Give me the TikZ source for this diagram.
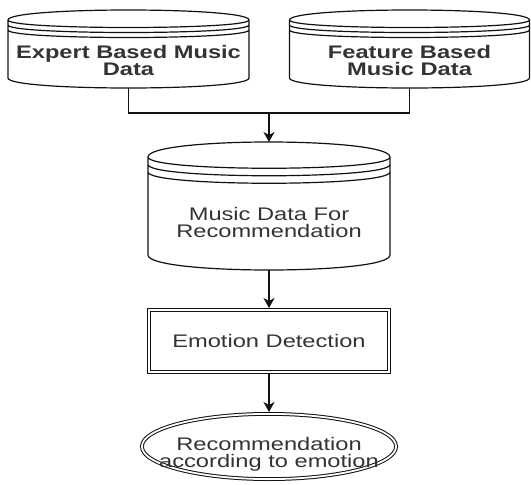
\documentclass[tikz,border=0pt]{standalone}
\usepackage{fontspec}
\newfontfamily\diagfont[FakeStretch=1.3]{Liberation Sans}
\usetikzlibrary{arrows.meta,shapes.geometric,calc}

\definecolor{inkline}{HTML}{111111}
\definecolor{inktext}{HTML}{333333}

\tikzset{
  outline/.style={draw=inkline, line width=1.2pt, line join=round},
  labeltext/.style={text=inktext, align=center, inner sep=0pt,
    font=\diagfont\fontsize{18.2}{17}\selectfont},
  storebody/.style={labeltext, draw=none, outer sep=0pt,
    minimum width=#1},
  dblline/.style={draw=inkline, line width=1pt, double=white,
    double distance=1.8pt, outer sep=1.9pt},
  dblbox/.style={dblline, rectangle, inner sep=0pt, labeltext},
  dblellipse/.style={dblline, ellipse, inner sep=0pt},
  conn/.style={draw=inkline, line width=1.2pt},
  flow/.style={conn, -{Stealth[length=10pt, width=11pt, inset=3pt]}},
}

% Data store outline around a body node: #1 = body node, #2 = cap depth (pt).
% The caps sit above the body; three stacked rims under the lid.
\newcommand\datastoreoutline[2]{%
  \draw[outline] let \p1=(#1.north west), \p2=(#1.south east), \n1={#2} in
    (\x1,\y1+1.25*\n1)
      .. controls (\x1,\y1+2.5833*\n1) and (\x2,\y1+2.5833*\n1) .. (\x2,\y1+1.25*\n1)
      -- (\x2,\y2+\n1)
      .. controls (\x2,\y2-\n1/3) and (\x1,\y2-\n1/3) .. (\x1,\y2+\n1)
      -- cycle
    (\x1,\y1+1.25*\n1)
      .. controls (\x1,\y1+0.25*\n1) and (\x2,\y1+0.25*\n1) .. (\x2,\y1+1.25*\n1)
    (\x1,\y1+0.75*\n1)
      .. controls (\x1,\y1-0.25*\n1) and (\x2,\y1-0.25*\n1) .. (\x2,\y1+0.75*\n1)
    (\x1,\y1+0.25*\n1)
      .. controls (\x1,\y1-0.75*\n1) and (\x2,\y1-0.75*\n1) .. (\x2,\y1+0.25*\n1);
}

\begin{document}
\begin{tikzpicture}[x=1pt, y=1pt]
  \useasboundingbox (0,0) rectangle (531,-485);

  % source stores
  \node[storebody=241, minimum height=55.5] (expert) at (128.5,-60.25)
    {\bfseries Expert Based Music\\\bfseries Data};
  \datastoreoutline{expert}{10}

  \node[storebody=240, minimum height=55.5] (feature) at (409.5,-60.25)
    {\bfseries Feature Based\\\bfseries Music Data};
  \datastoreoutline{feature}{10}

  % merged store
  \node[storebody=242, minimum height=94.25] (music) at (269,-222.875)
    {Music Data For\\Recommendation};
  \datastoreoutline{music}{15}
  \coordinate (musictop) at ([yshift=33.75pt]music.north);

  % processing step and result
  \node[dblbox, minimum width=240.2, minimum height=62.2] (emotion)
    at (269,-341) {Emotion Detection};

  \node[dblellipse, minimum width=254.2, minimum height=65.2] (result)
    at (269,-446.5) {};
  \node[labeltext] (resulttext) at (269,-454)
    {Recommendation\\according to emotion};

  % connectors
  \coordinate (merge) at (269,-113);
  \draw[conn] (expert.south) |- (merge);
  \draw[conn] (feature.south) |- (merge);
  \draw[flow] (merge) -- (musictop);
  \draw[flow] (music.south) -- (emotion.north);
  \draw[flow] (emotion.south) -- (result.north);
\end{tikzpicture}
\end{document}
